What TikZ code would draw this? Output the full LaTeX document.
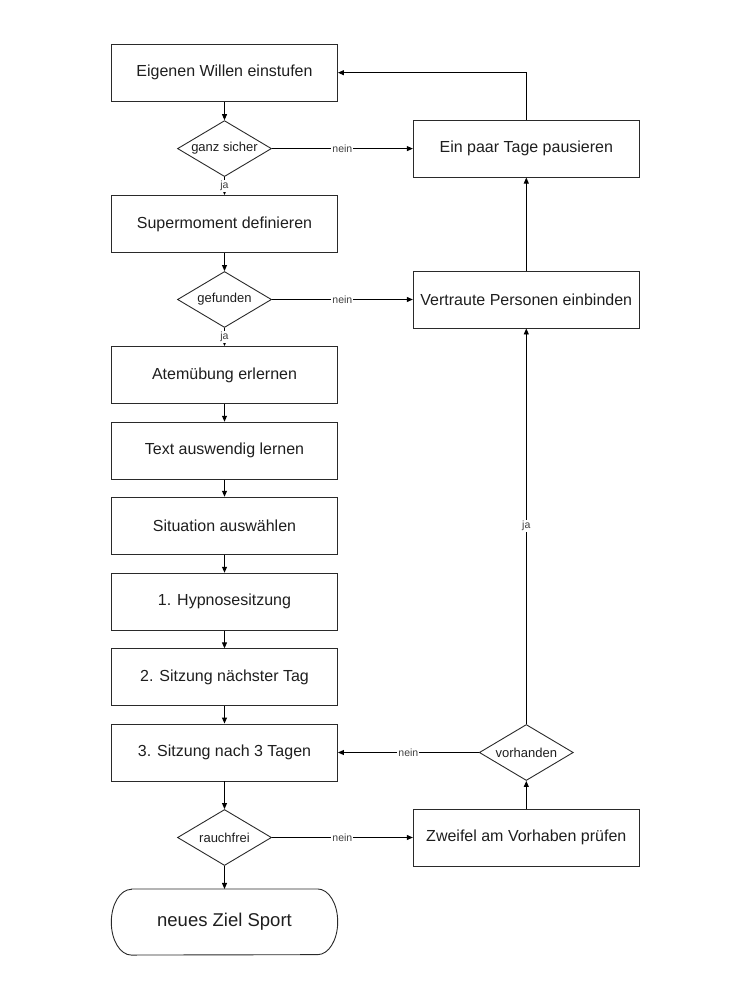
\documentclass[tikz,border=0pt]{standalone}
\usepackage{fontspec}
\setmainfont{Liberation Sans}
\usetikzlibrary{shapes.geometric,arrows.meta}
\definecolor{txt}{HTML}{1E1E1E}
\definecolor{ln}{HTML}{2A2A2A}
\begin{document}
\begin{tikzpicture}[x=1pt,y=-1pt,
  box/.style={draw=ln,line width=0.9pt,rectangle,minimum width=226pt,minimum height=57pt,inner sep=0pt,text=txt,font=\fontsize{16}{19}\selectfont},
  dec/.style={draw=ln,line width=0.9pt,diamond,aspect=1.68,minimum width=94pt,minimum height=56pt,inner sep=0pt,text=txt,font=\fontsize{13}{15}\selectfont},
  term/.style={rectangle,minimum width=226pt,minimum height=65.7pt,inner sep=0pt,text=txt,font=\fontsize{18.5}{22}\selectfont},
  arr/.style={draw=black,line width=0.9pt,-{Triangle[length=6pt,width=5pt]}},
  lab/.style={fill=white,inner sep=1pt,text=txt!85,font=\fontsize{10.5}{12}\selectfont}]
\useasboundingbox (0,0) rectangle (750,1000);

\node[box] (b1) at (224.5,72.7) {Eigenen Willen einstufen};
\node[dec] (d1) at (224.5,148.6) {ganz sicher};
\node[box] (b2) at (224.5,224) {Supermoment definieren};
\node[dec] (d2) at (224.5,299.5) {gefunden};
\node[box] (b3) at (224.5,375) {Atemübung erlernen};
\node[box] (b4) at (224.5,450.7) {Text auswendig lernen};
\node[box] (b5) at (224.5,525.7) {Situation auswählen};
\node[box] (b6) at (224.5,601.7) {1. Hypnosesitzung};
\node[box] (b7) at (224.5,677.3) {2. Sitzung nächster Tag};
\node[box] (b8) at (224.5,752.5) {3. Sitzung nach 3 Tagen};
\node[dec] (d3) at (224.5,837.5) {rauchfrei};
\node[term] (t) at (224.5,922) {neues Ziel Sport};
\draw[ln,line width=0.9pt] ([xshift=20pt]t.north west) -- ([xshift=-20pt]t.north east)
  arc[start angle=90,end angle=-90,x radius=20pt,y radius=32.85pt]
  -- ([xshift=20pt]t.south west)
  arc[start angle=270,end angle=90,x radius=20pt,y radius=32.85pt] -- cycle;

\node[box] (r1) at (526.3,148.6) {Ein paar Tage pausieren};
\node[box] (r2) at (526.3,299.5) {Vertraute Personen einbinden};
\node[dec] (d4) at (526.3,752.5) {vorhanden};
\node[box] (r3) at (526.3,837.5) {Zweifel am Vorhaben prüfen};

\draw[arr] (b1) -- (d1);
\draw[arr] (d1) -- node[lab]{nein} (r1);
\draw[arr] (d1) -- node[lab]{ja} (b2);
\draw[arr] (b2) -- (d2);
\draw[arr] (d2) -- node[lab]{nein} (r2);
\draw[arr] (d2) -- node[lab]{ja} (b3);
\draw[arr] (b3) -- (b4);
\draw[arr] (b4) -- (b5);
\draw[arr] (b5) -- (b6);
\draw[arr] (b6) -- (b7);
\draw[arr] (b7) -- (b8);
\draw[arr] (b8) -- (d3);
\draw[arr] (d3) -- (t);
\draw[arr] (d3) -- node[lab]{nein} (r3);
\draw[arr] (r3) -- (d4);
\draw[arr] (d4) -- node[lab]{nein} (b8);
\draw[arr] (d4) -- node[lab]{ja} (r2);
\draw[arr] (r2) -- (r1);
\draw[arr] (r1) |- (b1);
\end{tikzpicture}
\end{document}
